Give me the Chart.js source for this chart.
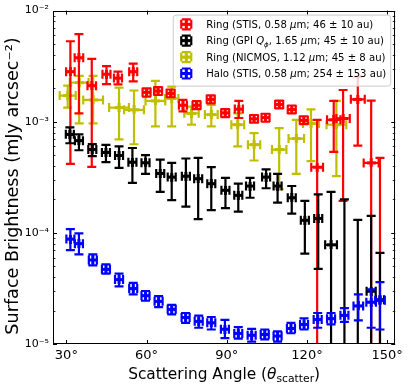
<!DOCTYPE html>
<html><head><meta charset="utf-8">
<script src="https://cdn.jsdelivr.net/npm/chart.js@4.4.1/dist/chart.umd.min.js"></script>
<style>html,body{margin:0;padding:0;background:#fff;}canvas{display:block;}</style>
</head><body>
<canvas id="c" width="407" height="385"></canvas>
<script>
// ---------------- data ----------------
const xTickValues = [30, 60, 90, 120, 150];
const xTickLabels = ['30°', '60°', '90°', '120°', '150°'];
const yTickValues = [1e-5, 1e-4, 1e-3, 1e-2];
const yTickLabels = ['10⁻⁵', '10⁻⁴', '10⁻³', '10⁻²'];

// Ring (STIS)
const redX   = [31.5, 34.7, 39.5, 45.0, 49.3, 55.0, 60.0, 64.3, 69.0, 73.6, 78.7, 84.0, 89.4, 94.5, 100.2, 104.5, 109.6, 114.3, 118.8, 123.8, 130.0, 133.5, 139.0, 144.0, 147.3];
const redY   = [2.82e-3, 3.76e-3, 2.11e-3, 2.68e-3, 2.47e-3, 2.82e-3, 1.84e-3, 1.89e-3, 1.80e-3, 1.41e-3, 1.41e-3, 1.59e-3, 1.20e-3, 1.30e-3, 1.06e-3, 1.09e-3, 1.43e-3, 1.29e-3, 1.03e-3, 3.9e-4, 1.04e-3, 1.07e-3, 1.59e-3, 4.26e-4, 5e-6];
const redHi  = [5.3e-3, 6.14e-3, 3.68e-3, 3.17e-3, 2.82e-3, 3.34e-3, 2.0e-3, 2.05e-3, 1.95e-3, 1.57e-3, 1.53e-3, 1.73e-3, 1.30e-3, 1.54e-3, 1.15e-3, 1.18e-3, 1.55e-3, 1.40e-3, 1.12e-3, 1.04e-3, 1.54e-3, 1.93e-3, 2.54e-3, 1.55e-3, 4.72e-4];
const redLo  = [4.18e-4, 1.19e-3, 3.93e-4, 2.18e-3, 2.17e-3, 2.31e-3, 1.68e-3, 1.74e-3, 1.66e-3, 1.24e-3, 1.30e-3, 1.46e-3, 1.10e-3, 1.08e-3, 0.98e-3, 1.0e-3, 1.32e-3, 1.19e-3, 0.95e-3, 1e-6, 5.35e-4, 1.94e-4, 6.1e-4, 1e-6, 1e-6];
const redXe  = [1.6, 1.6, 1.6, 1.5, 1.5, 1.5, 1.5, 1.5, 1.5, 1.5, 1.5, 1.5, 1.5, 1.5, 1.5, 1.5, 1.5, 1.5, 1.5, 2.2, 2.5, 2.5, 2.6, 2.8, 2.5];

// Ring (GPI Q_phi)
const blackX  = [31.3, 34.7, 39.7, 44.8, 49.7, 54.7, 59.6, 65.1, 69.4, 74.7, 79.3, 84.2, 89.5, 94.3, 98.7, 104.7, 109.0, 114.3, 119.2, 124.2, 129.0, 134.0, 139.0, 144.0, 147.3];
const blackY  = [7.7e-4, 6.76e-4, 5.62e-4, 5.3e-4, 4.97e-4, 4.33e-4, 4.27e-4, 3.43e-4, 3.18e-4, 3.24e-4, 3.07e-4, 2.77e-4, 2.42e-4, 2.18e-4, 2.64e-4, 3.18e-4, 2.64e-4, 2.07e-4, 1.3e-4, 1.35e-4, 7.8e-5, 5e-6, 5e-6, 2.99e-5, 2.5e-5];
const blackHi = [8.9e-4, 7.7e-4, 6.3e-4, 6.2e-4, 6.0e-4, 5.8e-4, 5.0e-4, 4.57e-4, 4.27e-4, 4.67e-4, 4.72e-4, 3.9e-4, 3.13e-4, 2.77e-4, 3.13e-4, 3.72e-4, 3.4e-4, 2.64e-4, 1.94e-4, 2.22e-4, 2.34e-4, 2.0e-4, 1.31e-4, 1.42e-4, 6.6e-5];
const blackLo = [6.4e-4, 5.54e-4, 4.9e-4, 4.33e-4, 3.85e-4, 2.82e-4, 3.4e-4, 2.34e-4, 1.97e-4, 1.72e-4, 1.33e-4, 1.6e-4, 1.67e-4, 1.55e-4, 2.07e-4, 2.52e-4, 1.87e-4, 1.49e-4, 6.5e-5, 4.75e-5, 1e-6, 1e-6, 1e-6, 1e-6, 1e-6];
const blackXe = [1.5, 1.5, 1.5, 1.5, 1.5, 1.5, 1.5, 1.5, 1.5, 1.5, 1.5, 1.5, 1.5, 1.5, 1.5, 1.5, 1.5, 1.5, 1.5, 1.5, 2.2, 1.5, 1.5, 1.7, 1.5];

// Ring (NICMOS)
const yellowX  = [30.5, 34.8, 40.0, 49.7, 55.3, 63.3, 69.4, 76.8, 84.2, 94.1, 100.2, 109.6, 116.0, 121.5, 131.0];
const yellowY  = [1.72e-3, 2.25e-3, 1.57e-3, 1.34e-3, 1.28e-3, 1.54e-3, 1.62e-3, 1.19e-3, 1.16e-3, 9.4e-4, 6.22e-4, 5.62e-4, 7.05e-4, 9.66e-4, 9.4e-4];
const yellowHi = [2.11e-3, 2.59e-3, 2.59e-3, 2.03e-3, 1.91e-3, 2.33e-3, 2.07e-3, 1.37e-3, 1.42e-3, 1.19e-3, 7.91e-4, 8.77e-4, 1.04e-3, 1.29e-3, 1.54e-3];
const yellowLo = [1.34e-3, 9.66e-4, 9.66e-4, 6.95e-4, 6.27e-4, 9.08e-4, 9.08e-4, 9.4e-4, 9.08e-4, 6.01e-4, 4.48e-4, 2.47e-4, 3.40e-4, 4.42e-4, 3.24e-4];
const yellowXe = [3.0, 3.5, 3.7, 3.7, 3.7, 3.7, 2.5, 2.7, 2.4, 2.4, 2.3, 2.7, 2.9, 3.0, 3.7];

// Halo (STIS)
const blueX  = [31.5, 34.7, 39.9, 44.8, 49.7, 55.0, 59.6, 64.5, 69.4, 74.6, 79.5, 84.2, 89.3, 94.3, 99.3, 104.2, 109.0, 114.0, 118.9, 124.0, 129.0, 134.0, 139.2, 144.0, 147.3];
const blueY  = [8.8e-5, 8.0e-5, 5.7e-5, 4.7e-5, 3.8e-5, 3.15e-5, 2.72e-5, 2.42e-5, 2.05e-5, 1.73e-5, 1.6e-5, 1.55e-5, 1.36e-5, 1.245e-5, 1.2e-5, 1.22e-5, 1.18e-5, 1.38e-5, 1.5e-5, 1.66e-5, 1.69e-5, 1.81e-5, 2.2e-5, 2.38e-5, 2.47e-5];
const blueHi = [1.08e-4, 9.9e-5, 6.4e-5, 5.2e-5, 4.3e-5, 3.55e-5, 3.0e-5, 2.7e-5, 2.25e-5, 1.9e-5, 1.8e-5, 1.75e-5, 1.65e-5, 1.42e-5, 1.37e-5, 1.35e-5, 1.3e-5, 1.55e-5, 1.7e-5, 1.9e-5, 1.9e-5, 2.1e-5, 2.8e-5, 3.1e-5, 3.6e-5];
const blueLo = [7.0e-5, 6.4e-5, 5.1e-5, 4.3e-5, 3.3e-5, 2.8e-5, 2.45e-5, 2.15e-5, 1.85e-5, 1.55e-5, 1.4e-5, 1.35e-5, 1.13e-5, 1.12e-5, 1.05e-5, 1.1e-5, 1.05e-5, 1.25e-5, 1.35e-5, 1.4e-5, 1.5e-5, 1.58e-5, 1.63e-5, 1.4e-5, 1.35e-5];
const blueXe = [1.5, 1.5, 1.5, 1.5, 1.5, 1.5, 1.5, 1.5, 1.5, 1.5, 1.5, 1.5, 1.5, 1.5, 1.5, 1.5, 1.5, 1.5, 1.5, 1.5, 1.5, 1.5, 1.8, 1.8, 1.8];

// legend text: [text, style] segments; style '' normal, 'i' italic, 'is' italic subscript, 's' subscript
const redLabel    = [['Ring (STIS, 0.58 ', ''], ['μ', 'i'], ['m; 46 ± 10 au)', '']];
const blackLabel  = [['Ring (GPI ', ''], ['Q', 'i'], ['ϕ', 'is'], [', 1.65 ', ''], ['μ', 'i'], ['m; 45 ± 10 au)', '']];
const yellowLabel = [['Ring (NICMOS, 1.12 ', ''], ['μ', 'i'], ['m; 45 ± 8 au)', '']];
const blueLabel   = [['Halo (STIS, 0.58 ', ''], ['μ', 'i'], ['m; 254 ± 153 au)', '']];
const xTitle = [['Scattering Angle (', ''], ['θ', 'i'], ['scatter', 's'], [')', '']];
const yTitle = 'Surface Brightness (mJy arcsec⁻²)';

// ---------------- drawing helpers ----------------
const FAM = '"DejaVu Sans", sans-serif';
const RED = '#ff0000', BLACK = '#000000', YELLOW = '#bfbf00', BLUE = '#0000ff';
const CAP = 4.5, ELW = 2.2;

function makePoints(xs, ys, xe, hi, lo) {
  return xs.map((x, i) => ({ x: x, y: ys[i], xe: xe[i], hi: hi[i], lo: lo[i] }));
}
function plusMarker(color) {
  const s = 9, c = document.createElement('canvas');
  c.width = s; c.height = s;
  const g = c.getContext('2d');
  g.fillStyle = color;
  g.fillRect(3, 0, 3, 9); g.fillRect(0, 3, 9, 3);
  return c;
}
function segFont(style, size) {
  const sz = (style === 's' || style === 'is') ? size * 0.7 : size;
  const it = (style === 'i' || style === 'is') ? 'italic ' : '';
  return it + sz.toFixed(2) + 'px ' + FAM;
}
function segWidth(ctx, segs, size) {
  let w = 0;
  segs.forEach(([t, st]) => { ctx.font = segFont(st, size); w += ctx.measureText(t).width; });
  return w;
}
function drawSegs(ctx, segs, x, y, size) {
  ctx.textAlign = 'left'; ctx.textBaseline = 'alphabetic';
  segs.forEach(([t, st]) => {
    ctx.font = segFont(st, size);
    const dy = (st === 's' || st === 'is') ? size * 0.22 : 0;
    ctx.fillText(t, x, y + dy);
    x += ctx.measureText(t).width;
  });
}
function errShape(ctx, cx, cy, xa, xb, ya, yb) {
  ctx.beginPath();
  ctx.moveTo(xa, cy); ctx.lineTo(xb, cy);
  ctx.moveTo(cx, ya); ctx.lineTo(cx, yb);
  ctx.moveTo(xa, cy - CAP); ctx.lineTo(xa, cy + CAP);
  ctx.moveTo(xb, cy - CAP); ctx.lineTo(xb, cy + CAP);
  ctx.moveTo(cx - CAP, ya); ctx.lineTo(cx + CAP, ya);
  ctx.moveTo(cx - CAP, yb); ctx.lineTo(cx + CAP, yb);
  ctx.stroke();
}

const errorBars = {
  id: 'errorBars',
  beforeDatasetDraw(chart, args) {
    const ds = chart.data.datasets[args.index];
    const xs = chart.scales.x, ys = chart.scales.y, a = chart.chartArea, ctx = chart.ctx;
    ctx.save();
    ctx.beginPath(); ctx.rect(a.left, a.top, a.right - a.left, a.bottom - a.top); ctx.clip();
    ctx.strokeStyle = ds.errColor; ctx.lineWidth = ELW; ctx.lineCap = 'butt';
    ds.data.forEach(p => {
      errShape(ctx, xs.getPixelForValue(p.x), ys.getPixelForValue(p.y),
        xs.getPixelForValue(p.x - p.xe), xs.getPixelForValue(p.x + p.xe),
        ys.getPixelForValue(p.hi), ys.getPixelForValue(p.lo));
    });
    ctx.restore();
  }
};

const frameAndLegend = {
  id: 'frameAndLegend',
  afterDraw(chart) {
    const xs = chart.scales.x, ys = chart.scales.y, a = chart.chartArea, ctx = chart.ctx;
    ctx.save();
    // frame
    ctx.strokeStyle = '#000'; ctx.lineWidth = 1;
    ctx.strokeRect(Math.round(a.left) + 0.5, Math.round(a.top) + 0.5,
      Math.round(a.right - a.left) - 1, Math.round(a.bottom - a.top) - 1);
    // x ticks (bottom + top), inward
    ctx.beginPath();
    xTickValues.forEach(v => {
      const px = Math.round(xs.getPixelForValue(v)) + 0.5;
      ctx.moveTo(px, a.bottom); ctx.lineTo(px, a.bottom - 4);
      ctx.moveTo(px, a.top); ctx.lineTo(px, a.top + 4);
    });
    // y major ticks (left + right)
    yTickValues.forEach(v => {
      const py = Math.round(ys.getPixelForValue(v)) + 0.5;
      ctx.moveTo(a.left, py); ctx.lineTo(a.left + 4, py);
      ctx.moveTo(a.right, py); ctx.lineTo(a.right - 4, py);
    });
    ctx.stroke();
    // y minor ticks
    ctx.beginPath(); ctx.lineWidth = 0.8;
    for (let i = 0; i < yTickValues.length - 1; i++) {
      for (let m = 2; m <= 9; m++) {
        const py = Math.round(ys.getPixelForValue(yTickValues[i] * m)) + 0.5;
        ctx.moveTo(a.left, py); ctx.lineTo(a.left + 2.5, py);
        ctx.moveTo(a.right, py); ctx.lineTo(a.right - 2.5, py);
      }
    }
    ctx.stroke();

    // legend
    const items = [[RED, redLabel], [BLACK, blackLabel], [YELLOW, yellowLabel], [BLUE, blueLabel]];
    const fs = 10.1, rowH = 16.4;
    let maxW = 0;
    items.forEach(it => { maxW = Math.max(maxW, segWidth(ctx, it[1], fs)); });
    const bw = 33.5 + maxW + 4, bh = 71;
    const bx = a.right - 5 - bw, by = a.top + 4;
    ctx.beginPath();
    ctx.roundRect(bx + 0.5, by + 0.5, bw, bh, 3);
    ctx.fillStyle = 'rgba(255,255,255,0.8)'; ctx.fill();
    ctx.strokeStyle = '#cccccc'; ctx.lineWidth = 1; ctx.stroke();
    items.forEach((it, i) => {
      const cy = by + 9.7 + i * rowH, cx = bx + 13.5;
      ctx.strokeStyle = it[0]; ctx.lineWidth = ELW;
      errShape(ctx, cx, cy, cx - 5, cx + 5, cy - 5, cy + 5);
      ctx.fillStyle = it[0];
      ctx.fillRect(cx - 1.5, cy - 4.5, 3, 9); ctx.fillRect(cx - 4.5, cy - 1.5, 9, 3);
      ctx.fillStyle = '#000';
      drawSegs(ctx, it[1], bx + 33.5, cy + 3.7, fs);
    });

    // x axis title
    const tfs = 15.4;
    const tw = segWidth(ctx, xTitle, tfs);
    ctx.fillStyle = '#000';
    drawSegs(ctx, xTitle, (a.left + a.right) / 2 - tw / 2, 379, tfs);

    // y axis title
    ctx.save();
    ctx.translate(13, 186);
    ctx.rotate(-Math.PI / 2);
    ctx.font = '17.6px ' + FAM;
    ctx.textAlign = 'center'; ctx.textBaseline = 'middle';
    ctx.fillText(yTitle, 0, 0);
    ctx.restore();
    ctx.restore();
  }
};

const datasets = [
  { label: 'Halo (STIS)', data: makePoints(blueX, blueY, blueXe, blueHi, blueLo), errColor: BLUE, pointStyle: plusMarker(BLUE) },
  { label: 'Ring (GPI)', data: makePoints(blackX, blackY, blackXe, blackHi, blackLo), errColor: BLACK, pointStyle: plusMarker(BLACK) },
  { label: 'Ring (STIS)', data: makePoints(redX, redY, redXe, redHi, redLo), errColor: RED, pointStyle: plusMarker(RED) },
  { label: 'Ring (NICMOS)', data: makePoints(yellowX, yellowY, yellowXe, yellowHi, yellowLo), errColor: YELLOW, pointStyle: plusMarker(YELLOW) }
];

new Chart(document.getElementById('c'), {
  type: 'scatter',
  data: { datasets: datasets },
  options: {
    responsive: false, animation: false, events: [],
    layout: { padding: { left: 0, right: 6, top: 8, bottom: 0 } },
    elements: { point: { radius: 4.5 } },
    plugins: { legend: { display: false }, tooltip: { enabled: false } },
    scales: {
      x: {
        type: 'linear', min: 25, max: 153,
        grid: { display: false, drawTicks: false }, border: { display: false },
        ticks: { autoSkip: false, maxRotation: 0, padding: 4, color: '#000',
          font: { family: FAM, size: 13 },
          callback: (v, i) => xTickLabels[i] },
        afterBuildTicks: s => { s.ticks = xTickValues.map(v => ({ value: v })); },
        afterFit: s => { s.height = 41; }
      },
      y: {
        type: 'logarithmic', min: 1e-5, max: 1e-2,
        grid: { display: false, drawTicks: false }, border: { display: false },
        ticks: { autoSkip: false, padding: 4, color: '#000',
          font: { family: FAM, size: 11 },
          callback: (v, i) => yTickLabels[i] },
        afterBuildTicks: s => { s.ticks = yTickValues.map(v => ({ value: v })); },
        title: { display: false },
        afterFit: s => { s.width = 53; }
      }
    }
  },
  plugins: [errorBars, frameAndLegend]
});
</script>
</body></html>
